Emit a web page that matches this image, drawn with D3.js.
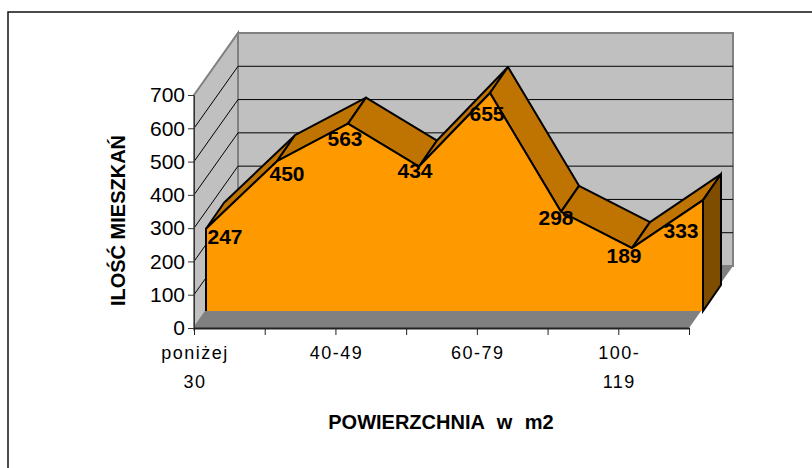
<!DOCTYPE html>
<html>
<head>
<meta charset="utf-8">
<title>Ilość mieszkań</title>
<script src="https://cdnjs.cloudflare.com/ajax/libs/d3/7.8.5/d3.min.js"></script>
<style>
html, body { margin: 0; padding: 0; background: #fff; overflow: hidden; }
svg { display: block; font-family: "Liberation Sans", Arial, sans-serif; }
</style>
</head>
<body>
<svg width="812" height="468"></svg>
<script>
var categories = ["poniżej 30", "", "40-49", "", "60-79", "", "100-119", ""];
var values = [247, 450, 563, 434, 655, 298, 189, 333];
var yTicks = [0, 100, 200, 300, 400, 500, 600, 700];
var yTitle = "ILOŚĆ MIESZKAŃ";
var xTitle = "POWIERZCHNIA w m2";

// hand placed data labels, offset from the point on the front face
var labelDx = [19, 10, -3, -4, -3, -5, -8, -22];
var labelDy = [8, 12, 15, 4, 21, 6, 8, 30];

var svg = d3.select("svg");

// frame: only top and left edges are inside the picture
svg.append("path").attr("fill", "none").attr("stroke", "#111").attr("stroke-width", 1.5)
  .attr("d", d3.line()([[8, 468], [8, 12], [812, 12]]));

var x = d3.scaleLinear().domain([0, 7]).range([194, 689]);
var y = d3.scaleLinear().domain([0, 700]).range([328, 95]);
// front face of the area sits a bit inside the box
var fx = d3.scaleLinear().domain([0, 7]).range([206, 703]);
var frontDy = -17;

// depth offsets of the 3d box
var wallDx = 44, wallDy = -62;
var areaDx = 18, areaDy = -26;

function pts(a) { return a.map(function (p) { return p.join(","); }).join(" "); }

// floor and walls
svg.append("polygon").attr("fill", "#c0c0c0").attr("stroke", "#808080").attr("stroke-width", 2)
  .attr("points", pts([[x(0) + wallDx, y(700) + wallDy], [x(7) + wallDx, y(700) + wallDy], [x(7) + wallDx, y(0) + wallDy], [x(0) + wallDx, y(0) + wallDy]]));
svg.append("polygon").attr("fill", "#c0c0c0").attr("stroke", "#808080").attr("stroke-width", 2)
  .attr("points", pts([[x(0), y(700)], [x(0) + wallDx, y(700) + wallDy], [x(0) + wallDx, y(0) + wallDy], [x(0), y(0)]]));
svg.append("polygon").attr("fill", "#808080")
  .attr("points", pts([[x(0), y(0)], [x(7), y(0)], [x(7) + wallDx, y(0) + wallDy], [x(0) + wallDx, y(0) + wallDy]]));

// gridlines on both walls
yTicks.slice(1, -1).forEach(function (t) {
  svg.append("path").attr("fill", "none").attr("stroke", "#000").attr("stroke-width", 1)
    .attr("d", d3.line()([[x(0), y(t)], [x(0) + wallDx, y(t) + wallDy], [x(7) + wallDx, y(t) + wallDy]]));
});

var fy = function (v) { return y(v) + frontDy; };
var base = fy(0);

// top ribbon between front and back of the area
values.slice(0, -1).forEach(function (v, i) {
  var w = values[i + 1];
  svg.append("polygon").attr("fill", "#bf7300").attr("stroke", "#000").attr("stroke-width", 2)
    .attr("stroke-linejoin", "round")
    .attr("points", pts([[fx(i), fy(v)], [fx(i + 1), fy(w)], [fx(i + 1) + areaDx, fy(w) + areaDy], [fx(i) + areaDx, fy(v) + areaDy]]));
});

// right end of the area
svg.append("polygon").attr("fill", "#7f4d00").attr("stroke", "#000").attr("stroke-width", 2)
  .attr("points", pts([[fx(7), fy(values[7])], [fx(7) + areaDx, fy(values[7]) + areaDy], [fx(7) + areaDx, base + areaDy], [fx(7), base]]));

// front face
var area = d3.area().x(function (d, i) { return fx(i); }).y0(base).y1(function (d) { return fy(d); });
svg.append("path").datum(values).attr("fill", "#ff9900").attr("d", area);
var front = d3.line().x(function (d, i) { return fx(i); }).y(function (d) { return fy(d); });
svg.append("path").datum(values).attr("fill", "none").attr("stroke", "#000").attr("stroke-width", 2).attr("d", front);
svg.append("path").attr("stroke", "#000").attr("stroke-width", 2)
  .attr("d", d3.line()([[fx(0), fy(values[0])], [fx(0), base]]));
svg.append("path").attr("stroke", "#000").attr("stroke-width", 2)
  .attr("d", d3.line()([[fx(7), fy(values[7])], [fx(7), base]]));

// value labels
svg.selectAll("text.value").data(values).enter().append("text").attr("class", "value")
  .attr("x", function (d, i) { return fx(i) + labelDx[i]; })
  .attr("y", function (d, i) { return fy(d) + labelDy[i]; })
  .attr("dy", "0.35em")
  .attr("text-anchor", "middle")
  .style("font-size", "21px").style("font-weight", "bold")
  .text(function (d) { return d; });

// axes
svg.append("g").attr("transform", "translate(" + x(0) + ",0)")
  .call(d3.axisLeft(y).tickValues(yTicks).tickSize(6).tickPadding(3).tickSizeOuter(0))
  .call(function (g) { g.selectAll("text").style("font-size", "21px").attr("fill", "#000"); })
  .call(function (g) { g.selectAll("line,path").attr("stroke", "#333"); });

svg.append("g").attr("transform", "translate(0," + y(0) + ")")
  .call(d3.axisBottom(x).tickValues(d3.range(8)).tickSize(7).tickFormat("").tickSizeOuter(0))
  .call(function (g) { g.selectAll("line,path").attr("stroke", "#222"); g.select("path").attr("stroke-width", 2); });

// category labels, wrapped like the original
var wrapped = { "poniżej 30": ["poniżej", "30"], "100-119": ["100-", "119"] };
categories.forEach(function (c, i) {
  if (!c) return;
  (wrapped[c] || [c]).forEach(function (l, k) {
    svg.append("text").attr("x", x(i) + 1)
      .attr("y", 359 + k * 28.5)
      .attr("text-anchor", "middle")
      .style("font-size", "18px").style("letter-spacing", "1.5px")
      .text(l);
  });
});

svg.append("text").attr("x", 441).attr("y", 429).attr("text-anchor", "middle")
  .style("font-size", "20px").style("font-weight", "bold").style("word-spacing", "7px").text(xTitle);
svg.append("text").attr("transform", "translate(125,220.5) rotate(-90)").attr("text-anchor", "middle")
  .style("font-size", "20px").style("font-weight", "bold").text(yTitle);
</script>
</body>
</html>
